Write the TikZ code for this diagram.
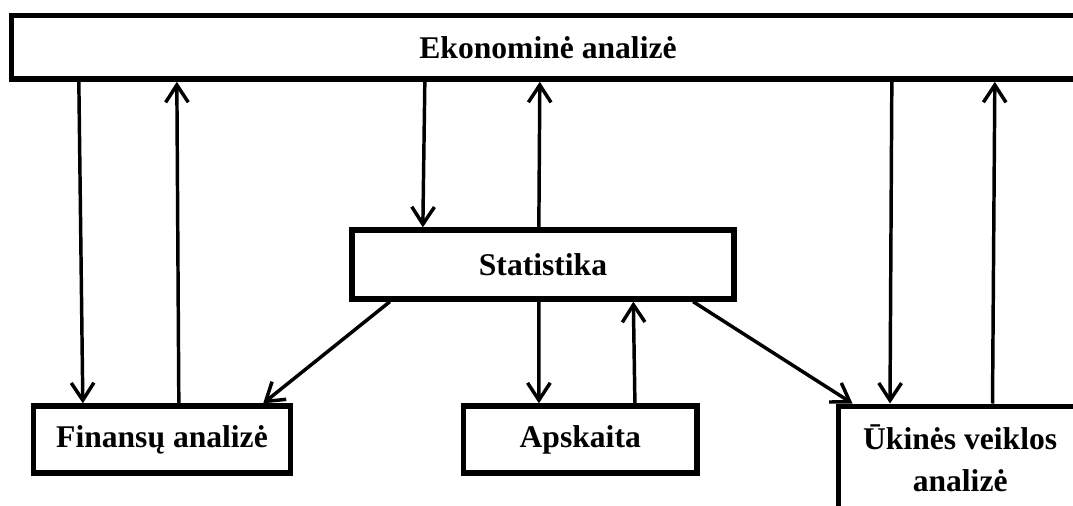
\documentclass[tikz,border=0pt]{standalone}
\usepackage{fontspec}
\setmainfont{Liberation Serif}
\usetikzlibrary{arrows.meta,calc}

\tikzset{blokas/.style = {draw, line width=4pt, inner sep=0pt, align=center,
                          font=\fontsize{23.7}{31.5}\selectfont\bfseries},
         rodykle/.style = {line width=2.6pt,
                           -{Straight Barb[length=13pt,width=17pt]}}
        }

\begin{document}
\begin{tikzpicture}[x=0.75pt, y=-0.75pt]
  \clip (0,0) rectangle (1073,506);
  % blokai
  \node[blokas, minimum width=804.75pt, minimum height=47.5pt] (eko) at (548,47.5) {Ekonominė analizė};
  \node[blokas, minimum width=286.5pt, minimum height=51.75pt] (stat) at (543,264.5) {Statistika};
  \node[blokas, minimum width=192.75pt, minimum height=50.25pt] (fin) at (162,439.5) {Finansų analizė};
  \node[blokas, minimum width=175pt, minimum height=50.25pt] (aps) at (580.25,439.5) {Apskaita};
  \node[blokas, minimum width=183pt, minimum height=78pt, anchor=north west] (ukin) at (835.5,403.5)
       {Ūkinės veiklos\\analizė};
  % rodyklės
  \draw[rodykle] ($(eko.south west)+(70,0)$) -- ($(fin.north west)+(52,0)$);
  \draw[rodykle] ($(fin.north west)+(148,0)$) -- ($(eko.south west)+(168,0)$);
  \draw[rodykle] ($(eko.south west)+(416,0)$) -- ($(stat.north west)+(73.5,0)$);
  \draw[rodykle] ($(stat.north west)+(189.5,0)$) -- ($(eko.south west)+(531,0)$);
  \draw[rodykle] ($(stat.south west)+(40.5,0)$) -- ($(fin.north east)+(-30,0)$);
  \draw[rodykle] ($(stat.south west)+(189.5,0)$) -- ($(aps.north west)+(78,0)$);
  \draw[rodykle] ($(aps.north west)+(174,0)$) -- ($(stat.south west)+(284,0)$);
  \draw[rodykle] ($(stat.south east)+(-43.5,0)$) -- ($(ukin.north west)+(17,0)$);
  \draw[rodykle] ($(eko.south west)+(883,0)$) -- ($(ukin.north west)+(54.5,0)$);
  \draw[rodykle] ($(ukin.north west)+(157,0)$) -- ($(eko.south west)+(986,0)$);
\end{tikzpicture}
\end{document}
